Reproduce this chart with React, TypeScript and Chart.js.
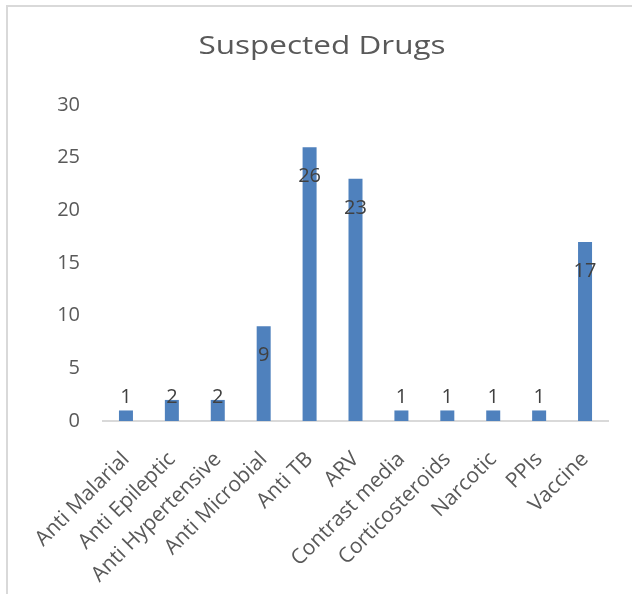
import React, { useEffect, useRef } from "react";
import { Chart, registerables } from "chart.js";

Chart.register(...registerables);

const categories: string[] = [
  "Anti Malarial",
  "Anti Epileptic",
  "Anti Hypertensive",
  "Anti Microbial",
  "Anti TB",
  "ARV",
  "Contrast media",
  "Corticosteroids",
  "Narcotic",
  "PPIs",
  "Vaccine",
];
const counts: number[] = [1, 2, 2, 9, 26, 23, 1, 1, 1, 1, 17];
const yTicks: number[] = [0, 5, 10, 15, 20, 25, 30];
const chartTitle = "Suspected Drugs";

const FONT = "'Open Sans', 'DejaVu Sans', sans-serif";

const dataLabelPlugin = {
  id: "valueLabels",
  afterDatasetsDraw(chart: any) {
    const meta = chart.getDatasetMeta(0);
    const base = chart.scales.y.getPixelForValue(0);
    const ctx = chart.ctx;
    ctx.save();
    ctx.font = `20px ${FONT}`;
    ctx.fillStyle = "#404040";
    ctx.textAlign = "center";
    ctx.textBaseline = "alphabetic";
    meta.data.forEach((bar: any, i: number) => {
      const center = Math.min(bar.y + 28, base - 25);
      ctx.fillText(String(counts[i]), bar.x, center + 7);
    });
    ctx.restore();
  },
};

// Title drawn centred on the full (wider) chart frame, as in the reference
const titlePlugin = {
  id: "frameTitle",
  afterDraw(chart: any) {
    const ctx = chart.ctx;
    const sx = 1.26;
    ctx.save();
    ctx.font = `25px ${FONT}`;
    ctx.fillStyle = "#595959";
    ctx.textAlign = "center";
    ctx.textBaseline = "alphabetic";
    ctx.scale(sx, 1);
    ctx.fillText(chartTitle, 322 / sx, 54);
    ctx.restore();
  },
};

export default function App() {
  const ref = useRef<HTMLCanvasElement | null>(null);

  useEffect(() => {
    if (!ref.current) return;
    const chart = new Chart(ref.current, {
      type: "bar",
      data: {
        labels: categories,
        datasets: [
          {
            data: counts,
            backgroundColor: "#4f81bd",
            borderWidth: 0,
            barPercentage: 0.305,
            categoryPercentage: 1,
          },
        ],
      },
      options: {
        responsive: false,
        animation: false,
        layout: { padding: { left: 8, right: 24, top: 105, bottom: 0 } },
        plugins: {
          legend: { display: false },
          tooltip: { enabled: false },
          title: { display: false },
        },
        scales: {
          x: {
            grid: { display: false, drawTicks: false },
            border: { display: true, color: "#d9d9d9", width: 2 },
            ticks: {
              color: "#595959",
              font: { family: FONT, size: 21 },
              minRotation: 45,
              maxRotation: 45,
              autoSkip: false,
              padding: 26,
            },
            afterFit: (scale: any) => {
              scale.height = 173;
            },
          },
          y: {
            min: 0,
            max: 30,
            grid: { display: false, drawTicks: false },
            border: { display: false },
            afterBuildTicks: (scale: any) => {
              scale.ticks = yTicks.map((v) => ({ value: v }));
            },
            ticks: {
              color: "#595959",
              font: { family: FONT, size: 20 },
              padding: 23,
            },
            afterFit: (scale: any) => {
              scale.width = 95;
            },
          },
        },
      },
      plugins: [dataLabelPlugin, titlePlugin],
    });
    return () => chart.destroy();
  }, []);

  return (
    <div
      style={{
        position: "fixed",
        left: 0,
        top: 0,
        width: 632,
        height: 594,
        overflow: "hidden",
        background: "#fff",
      }}
    >
      <div
        style={{
          position: "absolute",
          left: 6,
          top: 5,
          width: 700,
          height: 700,
          border: "2px solid #d9d9d9",
          boxSizing: "border-box",
        }}
      />
      <canvas
        ref={ref}
        width={632}
        height={594}
        style={{ position: "absolute", left: 0, top: 0, width: 632, height: 594 }}
      />
    </div>
  );
}
